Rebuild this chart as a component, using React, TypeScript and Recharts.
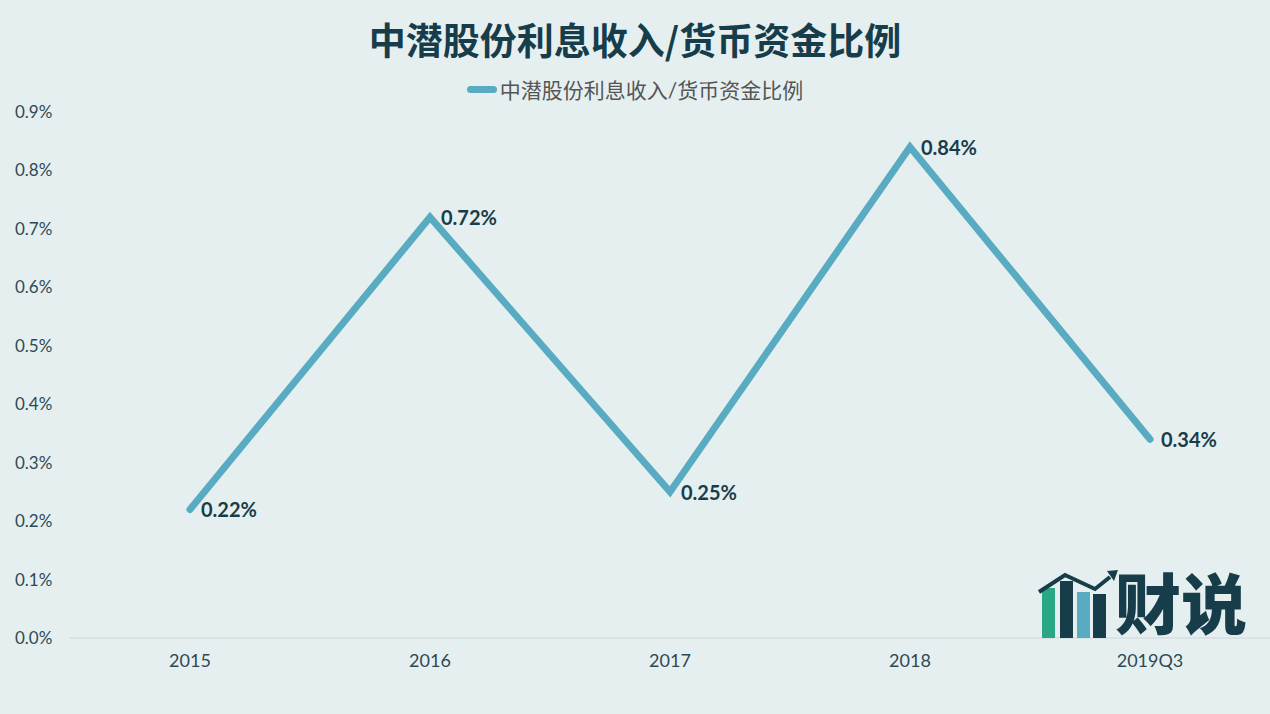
import React from "react";
import { LineChart, Line, XAxis, YAxis, LabelList } from "recharts";

const years = ["2015", "2016", "2017", "2018", "2019Q3"];
const ratio = [0.22, 0.72, 0.25, 0.84, 0.34];
const yTicks = [0, 0.1, 0.2, 0.3, 0.4, 0.5, 0.6, 0.7, 0.8, 0.9];

const SERIES = "中潜股份利息收入/货币资金比例";
const LINE_COLOR = "#59abc2";
const DARK = "#173d4b";
const FONT = "Lato, 'Noto Sans CJK SC', sans-serif";

const data = years.map((y, i) => ({ year: y, value: ratio[i] }));

const YTick = (props: any) => {
  const { y, payload } = props;
  return (
    <text x={15} y={y} dy={6} fontSize={17} fill="#2c4a55" fontFamily={FONT} textAnchor="start">
      {payload.value.toFixed(1)}%
    </text>
  );
};

const PointLabel = (props: any) => {
  const { x, y, value } = props;
  return (
    <text x={x + 11} y={y} dy={8} fontSize={20} fontWeight="bold" fill={DARK} fontFamily={FONT}>
      {value.toFixed(2)}%
    </text>
  );
};

// brand mark in the lower right corner
function Logo() {
  return (
    <>
      <svg width={90} height={80} style={{ position: "absolute", left: 1035, top: 563 }}>
        <rect x={7} y={25} width={13} height={50} fill="#2aa886" />
        <rect x={25} y={18} width={13} height={57} fill={DARK} />
        <rect x={42} y={29} width={13} height={46} fill={LINE_COLOR} />
        <rect x={58} y={31} width={13} height={44} fill={DARK} />
        <polyline points="4,29 30,12 60,26 75,14" fill="none" stroke={DARK} strokeWidth={4} />
        <polygon points="72,8 83,7 79,18" fill={DARK} />
      </svg>
      <div
        style={{
          position: "absolute",
          left: 1115,
          top: 560,
          fontSize: 66,
          lineHeight: "80px",
          fontWeight: 900,
          color: DARK,
          fontFamily: "'Noto Sans CJK SC', sans-serif",
          whiteSpace: "nowrap",
        }}
      >
        财说
      </div>
    </>
  );
}

export default function App() {
  return (
    <div style={{ position: "absolute", left: 0, top: 0, width: 1270, height: 714, background: "#e6eff0", overflow: "hidden" }}>
      <div style={{ position: "absolute", top: 0, left: 0 }}>
        <LineChart width={1270} height={714} data={data} margin={{ top: 112, right: 0, bottom: 46, left: 0 }}>
          <XAxis
            dataKey="year"
            height={30}
            padding={{ left: 120, right: 120 }}
            axisLine={{ stroke: "#cfd6d8" }}
            tickLine={false}
            tick={{ fontSize: 18, fill: "#2c4a55", fontFamily: FONT }}
            tickMargin={10}
          />
          <YAxis
            width={70}
            domain={[0, 0.9]}
            ticks={yTicks}
            axisLine={false}
            tickLine={false}
            tick={<YTick />}
            interval={0}
          />
          <Line
            type="linear"
            dataKey="value"
            name={SERIES}
            stroke={LINE_COLOR}
            strokeWidth={7}
            strokeLinecap="round"
            strokeLinejoin="miter"
            dot={false}
            activeDot={false}
            isAnimationActive={false}
          >
            <LabelList dataKey="value" content={<PointLabel />} />
          </Line>
        </LineChart>
      </div>
      <div
        style={{
          position: "absolute",
          top: 12,
          width: 1270,
          textAlign: "center",
          fontSize: 37,
          fontWeight: "bold",
          color: DARK,
          fontFamily: "'Noto Sans CJK SC', sans-serif",
        }}
      >
        {SERIES}
      </div>
      <div style={{ position: "absolute", top: 74, left: 0, width: 1270, display: "flex", justifyContent: "center", alignItems: "center", fontFamily: FONT }}>
        <span style={{ display: "inline-block", width: 30, height: 7, borderRadius: 4, background: LINE_COLOR, marginRight: 3 }} />
        <span style={{ fontSize: 21, color: "#555" }}>{SERIES}</span>
      </div>
      <Logo />
    </div>
  );
}
